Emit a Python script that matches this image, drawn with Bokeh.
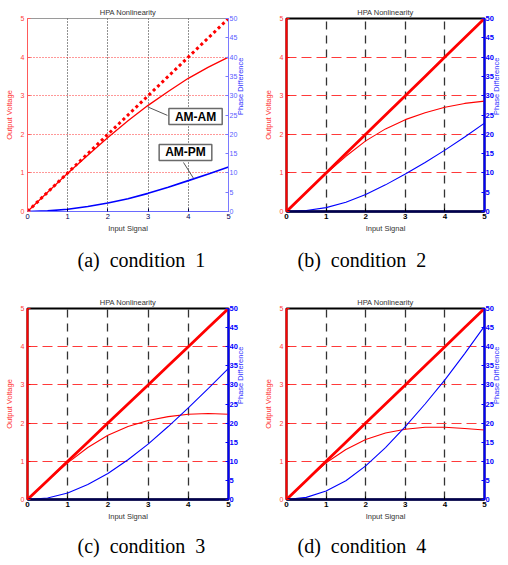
import math
from bokeh.plotting import figure
from bokeh.models import Range1d, LinearAxis, FixedTicker, Title, Label
from bokeh.layouts import column, row
from bokeh.embed import file_html
from bokeh.resources import INLINE

# ---- data ----
input_signal = [0, 0.5, 1, 1.5, 2, 2.5, 3, 3.5, 4, 4.5, 5]
linear_ref = [0, 0.5, 1, 1.5, 2, 2.5, 3, 3.5, 4, 4.5, 5]

am_am_1 = [0, 0.50, 0.99, 1.46, 1.92, 2.35, 2.75, 3.11, 3.45, 3.74, 4.00]
am_pm_1 = [0, 0.15, 0.6, 1.3, 2.2, 3.3, 4.7, 6.3, 8.0, 9.7, 11.5]

am_am_2 = [0, 0.50, 0.98, 1.43, 1.83, 2.14, 2.38, 2.56, 2.70, 2.80, 2.86]
am_pm_2 = [0, 0.25, 1.0, 2.4, 4.4, 6.9, 9.7, 12.7, 15.9, 19.3, 22.9]

am_am_3 = [0, 0.50, 0.96, 1.36, 1.68, 1.91, 2.07, 2.17, 2.23, 2.25, 2.23]
am_pm_3 = [0, 0.4, 1.7, 3.9, 6.8, 10.4, 14.5, 19.1, 24.0, 29.1, 34.3]

am_am_4 = [0, 0.50, 0.96, 1.31, 1.57, 1.74, 1.84, 1.89, 1.89, 1.86, 1.82]
am_pm_4 = [0, 0.55, 2.2, 4.9, 8.8, 13.6, 19.1, 25.0, 31.3, 38.2, 45.4]

NB = "\u00a0"
captions = ["(a)" + NB + " condition" + NB + " 1", "(b)" + NB + " condition" + NB + " 2",
            "(c)" + NB + " condition" + NB + " 3", "(d)" + NB + " condition" + NB + " 4"]
x_ticks = [0, 1, 2, 3, 4, 5]
volt_ticks = [0, 1, 2, 3, 4, 5]
phase_ticks = [0, 5, 10, 15, 20, 25, 30, 35, 40, 45, 50]
grid_x = [1, 2, 3, 4]
grid_y = [1, 2, 3, 4]

SANS = "Liberation Sans"
SERIF = "Liberation Serif"


def make_panel(am_am, am_pm, caption, classic, width, height, left, right, top, bottom,
               cap_offset, cap_standoff):
    p = figure(width=width, height=height, x_range=Range1d(0, 5), y_range=Range1d(0, 5),
               output_backend="svg", toolbar_location=None, tools="",
               min_border_left=left, min_border_right=right,
               min_border_top=top, min_border_bottom=bottom)
    p.extra_y_ranges = {"phase": Range1d(0, 50)}
    p.background_fill_color = "white"
    p.border_fill_color = "white"

    p.title.text = "HPA Nonlinearity"
    p.title.align = "center"
    p.title.text_font = SANS
    p.title.text_font_size = "7.5px"
    p.title.text_font_style = "normal"
    p.title.text_color = "#333333"
    p.title.standoff = 4

    # x axis
    xa = p.xaxis[0]
    xa.ticker = FixedTicker(ticks=x_ticks)
    xa.axis_label = "Input Signal"
    xa.axis_label_text_font = SANS
    xa.axis_label_text_font_size = "7.5px"
    xa.axis_label_text_font_style = "normal"
    xa.axis_label_text_color = "#333333"
    xa.axis_label_standoff = 2
    xa.major_label_text_font = SANS
    xa.major_label_standoff = 2
    xa.major_tick_in = 3
    xa.major_tick_out = 0
    xa.minor_tick_line_color = None

    # left axis
    ya = p.yaxis[0]
    ya.ticker = FixedTicker(ticks=volt_ticks)
    ya.axis_label = "Output Voltage"
    ya.axis_label_text_font = SANS
    ya.axis_label_text_font_size = "7.5px"
    ya.axis_label_text_font_style = "normal"
    ya.axis_label_text_color = "#ff3030"
    ya.axis_label_standoff = 4
    ya.major_label_text_font = SANS
    ya.major_label_text_font_size = "7px"
    ya.major_label_text_color = "#ff4040"
    ya.major_label_standoff = 3
    ya.major_tick_in = 3
    ya.major_tick_out = 0
    ya.minor_tick_line_color = None

    # right axis
    ra = LinearAxis(y_range_name="phase", ticker=FixedTicker(ticks=phase_ticks),
                    axis_label="Phase Difference")
    ra.axis_label_text_font = SANS
    ra.axis_label_text_font_size = "7.5px"
    ra.axis_label_text_font_style = "normal"
    ra.axis_label_text_color = "#3030ff"
    ra.axis_label_standoff = 0
    ra.axis_label_orientation = math.pi / 2
    ra.major_label_text_font = SANS
    ra.major_label_standoff = 1
    ra.major_tick_in = 3
    ra.major_tick_out = 0
    ra.minor_tick_line_color = None
    p.add_layout(ra, "right")

    p.xgrid.ticker = FixedTicker(ticks=grid_x)
    p.ygrid.ticker = FixedTicker(ticks=grid_y)

    if classic:
        p.outline_line_color = "#9a9a9a"
        p.outline_line_width = 1
        xa.axis_line_color = "#6a6aff"
        xa.axis_line_width = 1
        xa.major_tick_line_color = "#000040"
        xa.major_label_text_color = "#000055"
        xa.major_label_text_font_size = "7.5px"
        ya.axis_line_color = "#ff5a5a"
        ya.axis_line_width = 1
        ya.major_tick_line_color = "#ff5a5a"
        ra.axis_line_color = "#7a7aff"
        ra.axis_line_width = 1
        ra.major_tick_line_color = "#7a7aff"
        ra.major_label_text_color = "#5a5aff"
        ra.major_label_text_font_size = "7px"
        p.xgrid.grid_line_color = "#222222"
        p.xgrid.grid_line_dash = "1 2"
        p.xgrid.grid_line_width = 1
        p.ygrid.grid_line_color = "#ff3030"
        p.ygrid.grid_line_dash = "1 2"
        p.ygrid.grid_line_width = 1
        p.line(input_signal, linear_ref, line_color="#ff0000", line_width=3,
               line_dash="3 3")
        p.line(input_signal, am_am, line_color="#ff0000", line_width=1.3)
        p.line(input_signal, am_pm, line_color="#0000ff", line_width=1.6,
               y_range_name="phase")
        # call-outs
        p.segment(x0=[2.99], y0=[2.71], x1=[3.48], y1=[2.49], line_color="#555555",
                  line_width=1)
        p.segment(x0=[3.88], y0=[1.27], x1=[4.13], y1=[0.86], line_color="#555555",
                  line_width=1)
        for txt, lx, ly in (("AM-AM", 4.18, 2.46), ("AM-PM", 3.93, 1.53)):
            p.add_layout(Label(x=lx, y=ly, text=txt, text_align="center",
                               text_baseline="middle", text_font=SANS,
                               text_font_size="12px", text_font_style="bold",
                               text_color="black", background_fill_color="white",
                               border_line_color="#6a6a6a", border_line_width=1.5,
                               padding=dict(left=6, right=6, top=1, bottom=1)))
    else:
        p.outline_line_color = "black"
        p.outline_line_width = 2
        xa.axis_line_color = "#000050"
        xa.axis_line_width = 2.5
        xa.major_tick_line_color = "black"
        xa.major_label_text_color = "black"
        xa.major_label_text_font_size = "8px"
        xa.major_label_text_font_style = "bold"
        ya.axis_line_color = "#ff0000"
        ya.axis_line_width = 2
        ya.major_tick_line_color = "#ff0000"
        ra.axis_line_color = "#0000ff"
        ra.axis_line_width = 2
        ra.major_tick_line_color = "#0000ff"
        ra.major_label_text_color = "#0000ff"
        ra.major_label_text_font_size = "7.5px"
        ra.major_label_text_font_style = "bold"
        p.xgrid.grid_line_color = "#333333"
        p.xgrid.grid_line_dash = "8 6"
        p.xgrid.grid_line_width = 1.3
        p.ygrid.grid_line_color = "#ff3a3a"
        p.ygrid.grid_line_dash = "10 5"
        p.ygrid.grid_line_width = 1.2
        p.line(input_signal, linear_ref, line_color="#ff0000", line_width=2.8)
        p.line(input_signal, am_am, line_color="#ff0000", line_width=1.1)
        p.line(input_signal, am_pm, line_color="#0000ff", line_width=1.1,
               y_range_name="phase")

    cap = Title(text=caption, align="left", text_font=SERIF, text_font_size="20px",
                text_font_style="normal", text_color="black", offset=cap_offset,
                standoff=cap_standoff)
    p.add_layout(cap, "below")
    return p


pa = make_panel(am_am_1, am_pm_1, captions[0], True, 254, 290, 27, 26, 18, 79, 50, 23)
pb = make_panel(am_am_2, am_pm_2, captions[1], False, 254, 290, 32, 22, 18, 79, 11, 23)
pc = make_panel(am_am_3, am_pm_3, captions[2], False, 254, 275, 27, 26, 18, 64, 50, 18)
pd = make_panel(am_am_4, am_pm_4, captions[3], False, 254, 275, 32, 22, 18, 64, 11, 18)

layout = column(row(pa, pb), row(pc, pd))
open("out.html", "w").write(file_html(layout, INLINE))
